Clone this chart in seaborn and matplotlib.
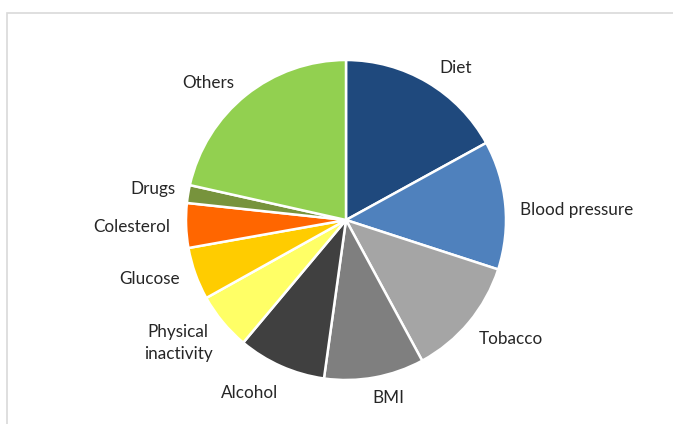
import matplotlib
matplotlib.use("Agg")
import matplotlib.pyplot as plt
from matplotlib.patches import Rectangle
import seaborn as sns

# Shares of risk factors (percent), clockwise from 12 o'clock
categories = ["Diet", "Blood pressure", "Tobacco", "BMI", "Alcohol",
              "Physical\ninactivity", "Glucose", "Colesterol", "Drugs", "Others"]
shares = [17.0, 13.0, 12.1, 10.1, 8.9, 5.8, 5.3, 4.5, 1.8, 21.5]
colors = ["#1F497D", "#4F81BD", "#A5A5A5", "#7F7F7F", "#404040",
          "#FFFF66", "#FFCC00", "#FF6600", "#77933C", "#92D050"]

# Label anchor points in pixel space (x, y from top)
label_pos = [(456, 68), (577, 210), (511, 339), (388, 398), (250, 393),
             (178, 343), (150, 279), (132, 227), (153, 189), (208, 83)]

sns.set_theme(style="white")
plt.rcParams["font.family"] = ["Lato", "DejaVu Sans"]

W, H = 673, 424
fig = plt.figure(figsize=(W / 100, H / 100), dpi=100)
ax = fig.add_axes([0, 0, 1, 1])

# light chart-area frame
ax.add_patch(Rectangle((6.5, -10), W + 20, H - 12.5 + 10, fill=False,
                       edgecolor="#D9D9D9", linewidth=1.2))

ax.pie(shares, colors=colors, startangle=90, counterclock=False,
       center=(346, H - 220), radius=160, frame=True,
       wedgeprops=dict(edgecolor="white", linewidth=1.8))
ax.set_xlim(0, W)
ax.set_ylim(0, H)
ax.set_aspect("auto")
ax.set_axis_off()

for name, (x, y) in zip(categories, label_pos):
    ax.text(x, H - y, name, ha="center", va="center", fontsize=12.3,
            color="#262626", linespacing=1.45)

fig.savefig("out.png", dpi=100)
